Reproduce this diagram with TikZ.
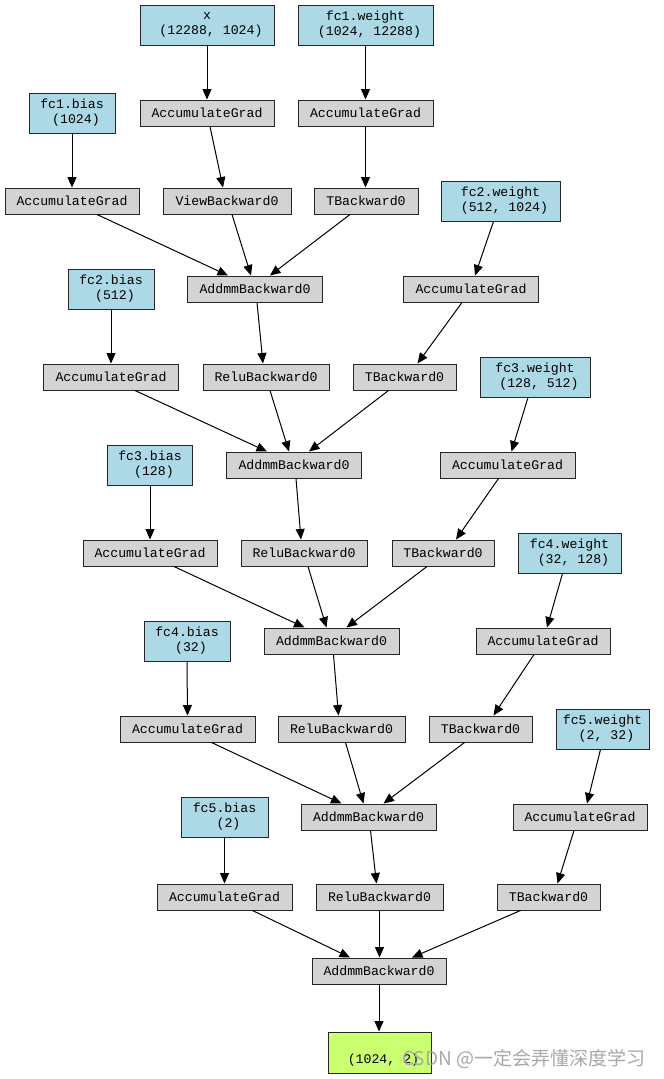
\documentclass[tikz,border=0pt]{standalone}
\usepackage{fontspec}
\newfontfamily\mono{Liberation Mono}
\newfontfamily\cjkfont{Noto Sans CJK SC}
\usetikzlibrary{arrows.meta}
\definecolor{pblue}{HTML}{ADD8E6}
\definecolor{pgray}{HTML}{D3D3D3}
\definecolor{pgreen}{HTML}{CAFF70}
\definecolor{wmark}{HTML}{A8A8A8}
\tikzset{
  basebox/.style={draw=black!85, line width=1pt, inner sep=0pt, align=center,
    font=\mono\fontsize{13.2}{15}\selectfont},
  gbox/.style={basebox, fill=pgray, minimum height=26pt},
  bbox/.style={basebox, fill=pblue, minimum height=40pt},
  obox/.style={basebox, fill=pgreen, minimum height=41pt},
  edge/.style={draw=black, line width=1pt, -{Triangle[length=10.5pt,width=9pt]}}
}
\newcommand{\lsp}{\phantom{0}}
\begin{document}
\begin{tikzpicture}[x=1pt,y=-1pt]
\useasboundingbox (0,0) rectangle (664,1079);
\fill[white] (0,0) rectangle (664,1079);
% blue parameter nodes
\node[bbox, minimum width=134pt] (x)  at (207,25)   {x\\\lsp(12288, 1024)};
\node[bbox, minimum width=135pt] (w1) at (365.5,25) {fc1.weight\\\lsp(1024, 12288)};
\node[bbox, minimum width=86pt]  (b1) at (72,113)   {fc1.bias\\\lsp(1024)};
\node[bbox, minimum width=119pt] (w2) at (500.5,201) {fc2.weight\\\lsp(512, 1024)};
\node[bbox, minimum width=86pt]  (b2) at (111,289)  {fc2.bias\\\lsp(512)};
\node[bbox, minimum width=110pt] (w3) at (535,377)  {fc3.weight\\\lsp(128, 512)};
\node[bbox, minimum width=85pt]  (b3) at (150,465)  {fc3.bias\\\lsp(128)};
\node[bbox, minimum width=103pt] (w4) at (569.5,553) {fc4.weight\\\lsp(32, 128)};
\node[bbox, minimum width=86pt]  (b4) at (187,641)  {fc4.bias\\\lsp(32)};
\node[bbox, minimum width=93pt]  (w5) at (602.5,729) {fc5.weight\\\lsp(2, 32)};
\node[bbox, minimum width=87pt]  (b5) at (224.5,817) {fc5.bias\\\lsp(2)};
% gray function nodes
\node[gbox, minimum width=134pt] (ax)  at (207,113)   {AccumulateGrad};
\node[gbox, minimum width=135pt] (aw1) at (365.5,113) {AccumulateGrad};
\node[gbox, minimum width=134pt] (ab1) at (72,201)    {AccumulateGrad};
\node[gbox, minimum width=128pt] (view) at (227,201)  {ViewBackward0};
\node[gbox, minimum width=104pt] (t1)  at (366,201)   {TBackward0};
\node[gbox, minimum width=135pt] (add1) at (255,289)  {AddmmBackward0};
\node[gbox, minimum width=135pt] (aw2) at (471,289)   {AccumulateGrad};
\node[gbox, minimum width=135pt] (ab2) at (111,377)   {AccumulateGrad};
\node[gbox, minimum width=126pt] (relu1) at (266,377) {ReluBackward0};
\node[gbox, minimum width=103pt] (t2)  at (404.5,377) {TBackward0};
\node[gbox, minimum width=135pt] (add2) at (294,465)  {AddmmBackward0};
\node[gbox, minimum width=135pt] (aw3) at (507.5,465) {AccumulateGrad};
\node[gbox, minimum width=134pt] (ab3) at (150,553)   {AccumulateGrad};
\node[gbox, minimum width=126pt] (relu2) at (304,553) {ReluBackward0};
\node[gbox, minimum width=102pt] (t3)  at (443,553)   {TBackward0};
\node[gbox, minimum width=135pt] (add3) at (331.5,641) {AddmmBackward0};
\node[gbox, minimum width=134pt] (aw4) at (543,641)   {AccumulateGrad};
\node[gbox, minimum width=135pt] (ab4) at (187.5,729) {AccumulateGrad};
\node[gbox, minimum width=127pt] (relu3) at (341.5,729) {ReluBackward0};
\node[gbox, minimum width=103pt] (t4)  at (480.5,729) {TBackward0};
\node[gbox, minimum width=135pt] (add4) at (368.5,817) {AddmmBackward0};
\node[gbox, minimum width=134pt] (aw5) at (580,817)   {AccumulateGrad};
\node[gbox, minimum width=135pt] (ab5) at (224.5,897) {AccumulateGrad};
\node[gbox, minimum width=127pt] (relu4) at (379.5,897) {ReluBackward0};
\node[gbox, minimum width=103pt] (t5)  at (548.5,897) {TBackward0};
\node[gbox, minimum width=134pt] (add5) at (379,971)  {AddmmBackward0};
\node[obox, minimum width=103pt] (out) at (379.5,1052.5) {\strut\\\lsp(1024, 2)};
% edges
\draw[edge] (x.south) -- (ax.north);
\draw[edge] (w1.south) -- (aw1.north);
\draw[edge] (b1.south) -- (ab1.north);
\draw[edge] ([xshift=3pt]ax.south) -- ([xshift=-4pt]view.north);
\draw[edge] (aw1.south) -- (aw1.south |- t1.north);
\draw[edge] ([xshift=25pt]ab1.south) -- ([xshift=-27pt]add1.north);
\draw[edge] ([xshift=5pt]view.south) -- ([xshift=-4pt]add1.north);
\draw[edge] ([xshift=-16pt]t1.south) -- ([xshift=15pt]add1.north);
\draw[edge] ([xshift=-7pt]w2.south) -- ([xshift=4pt]aw2.north);
% layer 2
\draw[edge] ([xshift=2pt]add1.south) -- ([xshift=-3pt]relu1.north);
\draw[edge] ([xshift=-9pt]aw2.south) -- ([xshift=13pt]t2.north);
\draw[edge] (b2.south) -- (ab2.north);
\draw[edge] ([xshift=24pt]ab2.south) -- ([xshift=-27pt]add2.north);
\draw[edge] ([xshift=4pt]relu1.south) -- ([xshift=-5pt]add2.north);
\draw[edge] ([xshift=-16pt]t2.south) -- ([xshift=15pt]add2.north);
\draw[edge] ([xshift=-7pt]w3.south) -- ([xshift=4pt]aw3.north);
% layer 3
\draw[edge] ([xshift=2pt]add2.south) -- ([xshift=-3pt]relu2.north);
\draw[edge] ([xshift=-9pt]aw3.south) -- ([xshift=13pt]t3.north);
\draw[edge] (b3.south) -- (ab3.north);
\draw[edge] ([xshift=24pt]ab3.south) -- ([xshift=-27pt]add3.north);
\draw[edge] ([xshift=4pt]relu2.south) -- ([xshift=-5pt]add3.north);
\draw[edge] ([xshift=-16pt]t3.south) -- ([xshift=15pt]add3.north);
\draw[edge] ([xshift=-7pt]w4.south) -- ([xshift=4pt]aw4.north);
% layer 4
\draw[edge] ([xshift=2pt]add3.south) -- ([xshift=-3pt]relu3.north);
\draw[edge] ([xshift=-9pt]aw4.south) -- ([xshift=13pt]t4.north);
\draw[edge] (b4.south) -- (ab4.north);
\draw[edge] ([xshift=24pt]ab4.south) -- ([xshift=-27pt]add4.north);
\draw[edge] ([xshift=4pt]relu3.south) -- ([xshift=-5pt]add4.north);
\draw[edge] ([xshift=-16pt]t4.south) -- ([xshift=15pt]add4.north);
\draw[edge] ([xshift=-2pt]w5.south) -- ([xshift=7pt]aw5.north);
% layer 5
\draw[edge] ([xshift=2pt]add4.south) -- ([xshift=-3pt]relu4.north);
\draw[edge] ([xshift=-6pt]aw5.south) -- ([xshift=9pt]t5.north);
\draw[edge] (b5.south) -- (ab5.north);
\draw[edge] ([xshift=28pt]ab5.south) -- ([xshift=-29pt]add5.north);
\draw[edge] (relu4.south) -- (relu4.south |- add5.north);
\draw[edge] ([xshift=-28pt]t5.south) -- ([xshift=33pt]add5.north);
\draw[edge] (add5.south) -- (add5.south |- out.north);
% watermark (overlaps the output node in the reference too)
\node[anchor=west, inner sep=0pt, text=wmark, font=\cjkfont\fontsize{19}{22}\selectfont] (wm) at (402,1059) {CSDN @一定会弄懂深度学习};
\end{tikzpicture}
\end{document}
